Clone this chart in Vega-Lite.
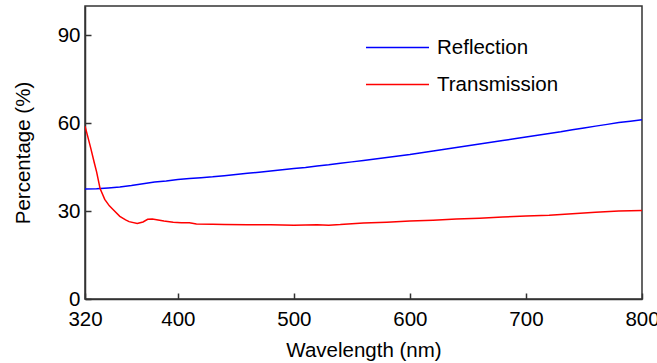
{
  "$schema": "https://vega.github.io/schema/vega-lite/v6.json",
  "width": 557,
  "height": 293,
  "autosize": {"type": "none"},
  "padding": {"left": 85, "top": 6, "right": 15, "bottom": 64},
  "config": {
    "font": "Liberation Sans",
    "view": {"stroke": "#333333", "strokeWidth": 1.5},
    "axis": {
      "grid": false,
      "domainColor": "#333333",
      "domainWidth": 1.5,
      "tickColor": "#333333",
      "tickWidth": 1.5,
      "tickSize": -6,
      "labelFlush": false,
      "labelOverlap": false,
      "labelFont": "Liberation Sans",
      "labelFontSize": 20.5,
      "labelColor": "#000000",
      "titleFont": "Liberation Sans",
      "titleFontSize": 20.5,
      "titleFontWeight": "normal",
      "titleColor": "#000000"
    }
  },
  "datasets": {
    "spectra": [
      {"wavelength": 320, "value": 37.5, "series": "Reflection"},
      {"wavelength": 330, "value": 37.6, "series": "Reflection"},
      {"wavelength": 340, "value": 37.9, "series": "Reflection"},
      {"wavelength": 350, "value": 38.2, "series": "Reflection"},
      {"wavelength": 360, "value": 38.7, "series": "Reflection"},
      {"wavelength": 370, "value": 39.3, "series": "Reflection"},
      {"wavelength": 380, "value": 39.9, "series": "Reflection"},
      {"wavelength": 390, "value": 40.3, "series": "Reflection"},
      {"wavelength": 400, "value": 40.8, "series": "Reflection"},
      {"wavelength": 410, "value": 41.1, "series": "Reflection"},
      {"wavelength": 420, "value": 41.4, "series": "Reflection"},
      {"wavelength": 430, "value": 41.7, "series": "Reflection"},
      {"wavelength": 440, "value": 42.1, "series": "Reflection"},
      {"wavelength": 450, "value": 42.5, "series": "Reflection"},
      {"wavelength": 460, "value": 42.9, "series": "Reflection"},
      {"wavelength": 470, "value": 43.3, "series": "Reflection"},
      {"wavelength": 480, "value": 43.7, "series": "Reflection"},
      {"wavelength": 490, "value": 44.1, "series": "Reflection"},
      {"wavelength": 500, "value": 44.5, "series": "Reflection"},
      {"wavelength": 510, "value": 44.9, "series": "Reflection"},
      {"wavelength": 520, "value": 45.4, "series": "Reflection"},
      {"wavelength": 530, "value": 45.8, "series": "Reflection"},
      {"wavelength": 540, "value": 46.3, "series": "Reflection"},
      {"wavelength": 550, "value": 46.8, "series": "Reflection"},
      {"wavelength": 560, "value": 47.3, "series": "Reflection"},
      {"wavelength": 570, "value": 47.8, "series": "Reflection"},
      {"wavelength": 580, "value": 48.3, "series": "Reflection"},
      {"wavelength": 590, "value": 48.8, "series": "Reflection"},
      {"wavelength": 600, "value": 49.3, "series": "Reflection"},
      {"wavelength": 610, "value": 49.9, "series": "Reflection"},
      {"wavelength": 620, "value": 50.5, "series": "Reflection"},
      {"wavelength": 630, "value": 51.1, "series": "Reflection"},
      {"wavelength": 640, "value": 51.7, "series": "Reflection"},
      {"wavelength": 650, "value": 52.3, "series": "Reflection"},
      {"wavelength": 660, "value": 52.9, "series": "Reflection"},
      {"wavelength": 670, "value": 53.5, "series": "Reflection"},
      {"wavelength": 680, "value": 54.1, "series": "Reflection"},
      {"wavelength": 690, "value": 54.7, "series": "Reflection"},
      {"wavelength": 700, "value": 55.3, "series": "Reflection"},
      {"wavelength": 710, "value": 55.9, "series": "Reflection"},
      {"wavelength": 720, "value": 56.5, "series": "Reflection"},
      {"wavelength": 730, "value": 57.1, "series": "Reflection"},
      {"wavelength": 740, "value": 57.8, "series": "Reflection"},
      {"wavelength": 750, "value": 58.4, "series": "Reflection"},
      {"wavelength": 760, "value": 59.0, "series": "Reflection"},
      {"wavelength": 770, "value": 59.6, "series": "Reflection"},
      {"wavelength": 780, "value": 60.2, "series": "Reflection"},
      {"wavelength": 790, "value": 60.7, "series": "Reflection"},
      {"wavelength": 800, "value": 61.2, "series": "Reflection"},
      {"wavelength": 320, "value": 59.0, "series": "Transmission"},
      {"wavelength": 322, "value": 56.0, "series": "Transmission"},
      {"wavelength": 325, "value": 51.4, "series": "Transmission"},
      {"wavelength": 328, "value": 46.5, "series": "Transmission"},
      {"wavelength": 330, "value": 43.4, "series": "Transmission"},
      {"wavelength": 333, "value": 37.7, "series": "Transmission"},
      {"wavelength": 337, "value": 34.0, "series": "Transmission"},
      {"wavelength": 341, "value": 31.8, "series": "Transmission"},
      {"wavelength": 345, "value": 30.2, "series": "Transmission"},
      {"wavelength": 350, "value": 28.2, "series": "Transmission"},
      {"wavelength": 355, "value": 27.0, "series": "Transmission"},
      {"wavelength": 358, "value": 26.4, "series": "Transmission"},
      {"wavelength": 365, "value": 25.8, "series": "Transmission"},
      {"wavelength": 370, "value": 26.3, "series": "Transmission"},
      {"wavelength": 374, "value": 27.2, "series": "Transmission"},
      {"wavelength": 378, "value": 27.3, "series": "Transmission"},
      {"wavelength": 383, "value": 27.0, "series": "Transmission"},
      {"wavelength": 388, "value": 26.6, "series": "Transmission"},
      {"wavelength": 396, "value": 26.2, "series": "Transmission"},
      {"wavelength": 403, "value": 26.0, "series": "Transmission"},
      {"wavelength": 410, "value": 26.0, "series": "Transmission"},
      {"wavelength": 416, "value": 25.6, "series": "Transmission"},
      {"wavelength": 430, "value": 25.5, "series": "Transmission"},
      {"wavelength": 440, "value": 25.4, "series": "Transmission"},
      {"wavelength": 460, "value": 25.3, "series": "Transmission"},
      {"wavelength": 480, "value": 25.3, "series": "Transmission"},
      {"wavelength": 500, "value": 25.2, "series": "Transmission"},
      {"wavelength": 520, "value": 25.3, "series": "Transmission"},
      {"wavelength": 530, "value": 25.2, "series": "Transmission"},
      {"wavelength": 540, "value": 25.4, "series": "Transmission"},
      {"wavelength": 550, "value": 25.7, "series": "Transmission"},
      {"wavelength": 560, "value": 25.9, "series": "Transmission"},
      {"wavelength": 580, "value": 26.2, "series": "Transmission"},
      {"wavelength": 600, "value": 26.6, "series": "Transmission"},
      {"wavelength": 620, "value": 26.9, "series": "Transmission"},
      {"wavelength": 640, "value": 27.3, "series": "Transmission"},
      {"wavelength": 660, "value": 27.6, "series": "Transmission"},
      {"wavelength": 680, "value": 28.0, "series": "Transmission"},
      {"wavelength": 700, "value": 28.3, "series": "Transmission"},
      {"wavelength": 720, "value": 28.6, "series": "Transmission"},
      {"wavelength": 740, "value": 29.1, "series": "Transmission"},
      {"wavelength": 760, "value": 29.6, "series": "Transmission"},
      {"wavelength": 780, "value": 30.0, "series": "Transmission"},
      {"wavelength": 800, "value": 30.2, "series": "Transmission"}
    ]
  },
  "data": {"name": "spectra"},
  "mark": {"type": "line", "strokeWidth": 1.5, "clip": true},
  "encoding": {
    "x": {
      "field": "wavelength",
      "type": "quantitative",
      "title": "Wavelength (nm)",
      "scale": {"domain": [320, 800], "nice": false, "zero": false},
      "axis": {"values": [320, 400, 500, 600, 700, 800], "labelPadding": 16, "titlePadding": 11}
    },
    "y": {
      "field": "value",
      "type": "quantitative",
      "title": "Percentage (%)",
      "scale": {"domain": [0, 100], "nice": false},
      "axis": {"values": [0, 30, 60, 90], "labelPadding": 11, "titlePadding": 24}
    },
    "color": {
      "field": "series",
      "type": "nominal",
      "scale": {"domain": ["Reflection", "Transmission"], "range": ["#0000ff", "#ff0000"]},
      "legend": {
        "title": null,
        "orient": "none",
        "legendX": 301,
        "legendY": 30,
        "padding": 0,
        "symbolType": "M-3,0H3",
        "symbolSize": 441,
        "symbolStrokeWidth": 1.5,
        "symbolFillColor": "transparent",
        "labelOffset": 28,
        "labelFont": "Liberation Sans",
        "labelFontSize": 20.5,
        "labelColor": "#000000",
        "rowPadding": 15
      }
    }
  }
}
